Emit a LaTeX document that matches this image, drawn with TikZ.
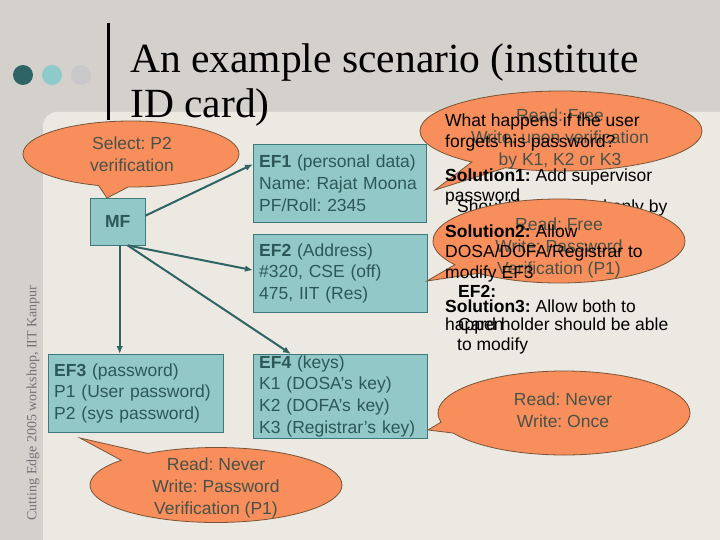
\documentclass[tikz,border=0pt]{standalone}
\usepackage{fontspec}
\setmainfont{Liberation Sans}
\newfontfamily\titlefont{Liberation Serif}
\usepackage{xcolor}
\usetikzlibrary{shapes.callouts,arrows.meta}
\definecolor{slidebg}{RGB}{212,209,205}
\definecolor{panelbg}{RGB}{236,232,226}
\definecolor{boxteal}{RGB}{146,200,200}
\definecolor{boxedge}{RGB}{62,122,122}
\definecolor{boxtext}{RGB}{44,88,88}
\definecolor{arrowteal}{RGB}{47,100,100}
\definecolor{bubblefill}{RGB}{247,142,92}
\definecolor{bubbleedge}{RGB}{120,85,55}
\definecolor{bubbletext}{RGB}{72,82,72}
\definecolor{dotdark}{RGB}{46,100,102}
\definecolor{dotlight}{RGB}{143,202,202}
\definecolor{dotgray}{RGB}{200,200,200}
\frenchspacing

\tikzset{
  filebox/.style={draw=boxedge, fill=boxteal, text=boxtext, align=left, anchor=north west,
    inner xsep=6pt, inner ysep=1pt, font=\fontsize{17.5}{21.6}\selectfont},
  bubble/.style={ellipse callout, draw=bubbleedge, fill=bubblefill, line width=0.8pt, callout pointer arc=16},
  bubbletxt/.style={text=bubbletext, align=center, font=\fontsize{17.5}{21.7}\selectfont},
  note/.style={anchor=base west, inner sep=0pt, font=\fontsize{17.5}{21}\selectfont},
  link/.style={-{Latex[length=8pt,width=6.5pt]}, arrowteal, line width=2pt},
}

\begin{document}
\begin{tikzpicture}[x=1pt, y=-1pt]
    \useasboundingbox (0,0) rectangle (720,540);
    \fill[slidebg] (0,0) rectangle (720,540);
    \fill[panelbg, rounded corners=14pt] (43,112) rectangle (740,560);

    % title
    \fill[dotdark] (23,75) circle (10pt);
    \fill[dotlight] (52,75) circle (10pt);
    \fill[dotgray] (81,75) circle (10pt);
    \draw[line width=3pt] (108,23) -- (108,120);
    \node[anchor=base west, inner sep=0pt, font=\titlefont\fontsize{41.5}{45}\selectfont] (titleA) at (130,73) {An example scenario (institute};
    \node[anchor=base west, inner sep=0pt, font=\titlefont\fontsize{41.5}{45}\selectfont] (titleB) at (130,118) {ID card)};
    \node[rotate=90, text=black!55, font=\titlefont\fontsize{14}{14}\selectfont] (credit) at (33,403) {Cutting Edge 2005 workshop, IIT Kanpur};

    % files
    \node[filebox, text width=43pt, minimum height=47pt, align=center, font=\bfseries\fontsize{17.5}{21.6}\selectfont] (mf) at (90,198) {MF};
    \node[filebox, text width=161pt, minimum height=78pt] (ef1) at (253,144) {\textbf{EF1} (personal data)\\Name: Rajat Moona\\PF/Roll: 2345};
    \node[filebox, text width=162pt, minimum height=78pt] (ef2) at (253,234) {\textbf{EF2} (Address)\\\#320, CSE (off)\\475, IIT (Res)};
    \node[filebox, text width=163pt, minimum height=78pt] (ef3) at (48,354) {\textbf{EF3} (password)\\P1 (User password)\\P2 (sys password)};
    \node[filebox, text width=162pt, minimum height=84pt] (ef4) at (253,354) {\textbf{EF4} (keys)\\K1 (DOSA's key)\\K2 (DOFA's key)\\K3 (Registrar's key)};

    \draw[link] ([yshift=6pt]mf.east) -- ([yshift=19pt]ef1.west);
    \draw[link] ([xshift=10pt]mf.south) -- ([yshift=3pt]ef2.west);
    \draw[link] ([xshift=2pt]mf.south) -- ([xshift=2pt]mf.south |- ef3.north);
    \draw[link] ([xshift=10pt]mf.south) -- ([xshift=38pt]ef4.north west);

    % callouts
    \coordinate (selTip) at (107,198);
    \coordinate (topTip) at (435,190);
    \coordinate (midTip) at (427,281);
    \coordinate (lowTip) at (428,430);
    \coordinate (botTip) at (80,438);

    \node[bubble, minimum width=216pt, minimum height=66pt, callout absolute pointer={(selTip)}] (selBubble) at (131,154) {};
    \node[bubbletxt] (selText) at (132,154) {Select: P2\\verification};

    \node[bubble, minimum width=252pt, minimum height=75pt, callout absolute pointer={(botTip)}] (botBubble) at (216,485) {};
    \node[bubbletxt] (botText) at (216,488) {Read: Never\\Write: Password\\Verification (P1)};

    \node[bubble, minimum width=282pt, minimum height=80pt, callout absolute pointer={(topTip)}] (topBubble) at (561,131) {};
    \node[bubbletxt] (topText) at (560,139) {Read: Free\\Write: upon verification\\by K1, K2 or K3};

    \node[note] (shouldLine) at (457,212) {Should be modified only by};

    \node[bubble, minimum width=252pt, minimum height=84pt, callout absolute pointer={(midTip)}] (midBubble) at (559,241) {};
    \node[bubbletxt] (midText) at (559,248) {Read: Free\\Write: Password\\Verification (P1)};

    \node[bubble, minimum width=252pt, minimum height=84pt, callout absolute pointer={(lowTip)}] (lowBubble) at (564,413) {};
    \node[bubbletxt] (lowText) at (563,410) {Read: Never\\Write: Once};

    % notes on the right
    \node[note, font=\bfseries\fontsize{17.5}{21}\selectfont] (ef2Head) at (458,297) {EF2:};
    \node[note] (cardA) at (458,330) {Card holder should be able};
    \node[note] (cardB) at (457,350) {to modify};

    \node[note] (askA) at (445,127) {What happens if the user};
    \node[note] (askB) at (445,148) {forgets his password?};
    \node[note] (solA) at (445,182) {\textbf{Solution1:} Add supervisor};
    \node[note] (solAb) at (445,202) {password};
    \node[note] (solB) at (445,237) {\textbf{Solution2:} Allow};
    \node[note] (solBb) at (445,258) {DOSA/DOFA/Registrar to};
    \node[note] (solBc) at (445,278) {modify EF3};
    \node[note] (solC) at (445,312) {\textbf{Solution3:} Allow both to};
    \node[note] (solCb) at (445,330) {happen};
\end{tikzpicture}
\end{document}
